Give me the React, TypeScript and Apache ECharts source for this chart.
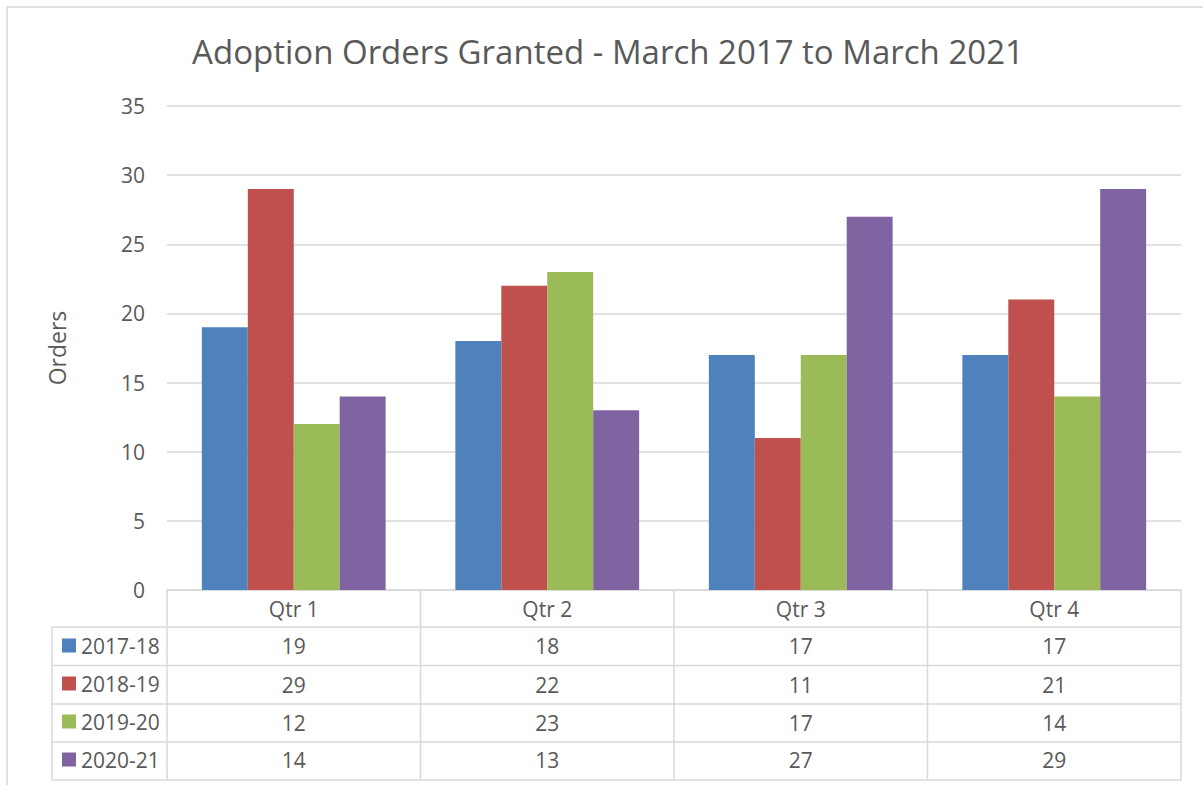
import React, { useEffect, useRef } from "react";
import * as echarts from "echarts";

const categories = ["Qtr 1", "Qtr 2", "Qtr 3", "Qtr 4"];
const seriesNames = ["2017-18", "2018-19", "2019-20", "2020-21"];
const v2017 = [19, 18, 17, 17];
const v2018 = [29, 22, 11, 21];
const v2019 = [12, 23, 17, 14];
const v2020 = [14, 13, 27, 29];
const seriesValues = [v2017, v2018, v2019, v2020];
const colors = ["#4f81bd", "#c0504d", "#9bbb59", "#8064a2"];
const yTicks = { min: 0, max: 35, interval: 5 };
const titleText = "Adoption Orders Granted - March 2017 to March 2021";
const yName = "Orders";

const W = 1203;
const H = 785;
const PL = 167;
const PR = 1181;
const PT = 106;
const PB = 590;
const ROW_LINES = [627, 665.5, 704, 742, 780];
const TABLE_LEFT = 52;
const FONT = "'Open Sans', sans-serif";
const TXT = "#595959";
const LINE = "#d9d9d9";
const FS = 21;

export default function App() {
  const ref = useRef<HTMLDivElement>(null);
  useEffect(() => {
    if (!ref.current) return;
    const chart = echarts.init(ref.current, undefined, { renderer: "svg" });
    const catW = (PR - PL) / categories.length;
    const graphics: any[] = [];
    graphics.push({
      type: "rect",
      shape: { x: 7, y: 7, width: 1300, height: 900 },
      style: { fill: "none", stroke: LINE, lineWidth: 1.5 },
      silent: true,
    });
    graphics.push({
      type: "text",
      x: 608,
      y: 51,
      style: {
        text: titleText,
        font: `33px ${FONT}`,
        fill: TXT,
        textAlign: "center",
        textVerticalAlign: "middle",
      },
    });
    for (let i = 0; i <= categories.length; i++) {
      const x = PL + i * catW;
      graphics.push({
        type: "line",
        shape: { x1: x, y1: PB, x2: x, y2: ROW_LINES[ROW_LINES.length - 1] },
        style: { stroke: LINE, lineWidth: 1.5 },
      });
    }
    graphics.push({
      type: "line",
      shape: { x1: TABLE_LEFT, y1: ROW_LINES[0], x2: TABLE_LEFT, y2: ROW_LINES[ROW_LINES.length - 1] },
      style: { stroke: LINE, lineWidth: 1.5 },
    });
    ROW_LINES.forEach((y) => {
      graphics.push({
        type: "line",
        shape: { x1: TABLE_LEFT, y1: y, x2: PR, y2: y },
        style: { stroke: LINE, lineWidth: 1.5 },
      });
    });

    const rowOffsets = [0, 37.5, 76, 114, 151.5];
    const xAxes: any[] = rowOffsets.map((off, k) => ({
      type: "category",
      data: categories,
      position: "bottom",
      offset: off,
      axisLine: { show: k === 0, lineStyle: { color: LINE, width: 1.5 } },
      axisTick: { show: false },
      axisLabel: {
        margin: 8,
        color: TXT,
        fontSize: FS,
        fontFamily: FONT,
        formatter:
          k === 0
            ? (v: string) => v
            : (_v: string, idx: number) => String(seriesValues[k - 1][idx]),
      },
      splitLine: { show: false },
    }));

    chart.setOption({
      animation: false,
      color: colors,
      graphic: graphics,
      grid: { left: PL, right: W - PR, top: PT, bottom: H - PB, containLabel: false },
      legend: {
        orient: "vertical",
        left: 57,
        top: 630,
        itemWidth: 14,
        itemHeight: 14,
        itemGap: 17,
        icon: "rect",
        selectedMode: false,
        textStyle: { color: TXT, fontSize: FS, fontFamily: FONT, padding: [0, 0, 0, 0] },
        data: seriesNames,
      },
      xAxis: xAxes,
      yAxis: {
        type: "value",
        min: yTicks.min,
        max: yTicks.max,
        interval: yTicks.interval,
        name: yName,
        nameLocation: "middle",
        nameGap: 99,
        nameRotate: 90,
        nameTextStyle: { color: TXT, fontSize: 23, fontFamily: FONT },
        axisLine: { show: false },
        axisTick: { show: false },
        axisLabel: { margin: 22, color: TXT, fontSize: FS, fontFamily: FONT },
        splitLine: { lineStyle: { color: LINE, width: 1.5 } },
      },
      series: seriesNames.map((name, i) => ({
        name,
        type: "bar",
        xAxisIndex: 0,
        data: seriesValues[i],
        barGap: "0%",
        barCategoryGap: "27.5%",
        itemStyle: { color: colors[i] },
      })),
    });
    return () => chart.dispose();
  }, []);
  return (
    <div
      ref={ref}
      style={{ position: "absolute", left: 0, top: 0, width: W, height: H, background: "#fff" }}
    />
  );
}
